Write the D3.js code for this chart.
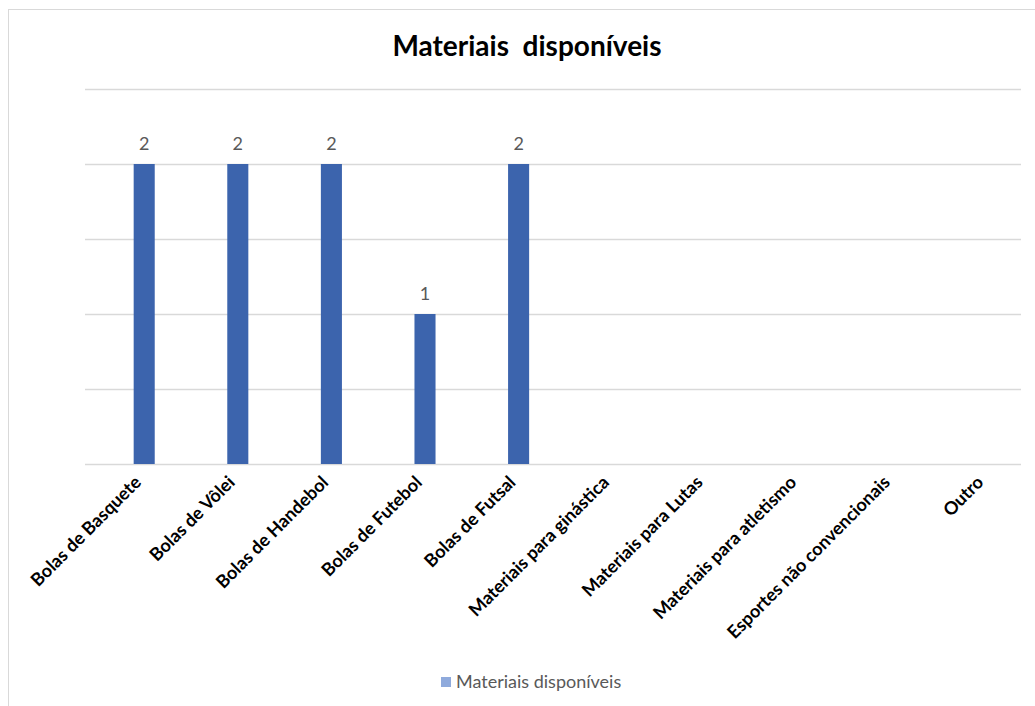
<!DOCTYPE html>
<html>
<head>
<meta charset="utf-8">
<script src="https://cdn.jsdelivr.net/npm/d3@7"></script>
<style>
  body { margin: 0; background: #fff; }
  text { font-family: Lato, "Open Sans", sans-serif; }
</style>
</head>
<body>
<div id="root"></div>
<script>
const categories = ["Bolas de Basquete", "Bolas de Vôlei", "Bolas de Handebol", "Bolas de Futebol",
  "Bolas de Futsal", "Materiais para ginástica", "Materiais para Lutas", "Materiais para atletismo",
  "Esportes não convencionais", "Outro"];
const values = [2, 2, 2, 1, 2, null, null, null, null, null];
const yTicks = [0, 0.5, 1, 1.5, 2, 2.5];
const seriesName = "Materiais disponíveis";
const title = "Materiais  disponíveis";

const outerWidth = 1035;
const outerHeight = 706;
const margin = { top: 89, right: 14, bottom: 242, left: 85 };
const width = outerWidth - margin.left - margin.right;
const height = outerHeight - margin.top - margin.bottom;

let svg = d3.select("#root")
            .append("svg")
            .attr("width", outerWidth)
            .attr("height", outerHeight);

// chart frame (only left and top edges are visible)
svg.append("rect")
   .attr("x", 8.5).attr("y", 9.5)
   .attr("width", 1100).attr("height", 800)
   .attr("fill", "none")
   .attr("stroke", "#d9d9d9");

let chart = svg.append("g")
               .attr("transform", `translate(${margin.left}, ${margin.top})`);

let scaleX = d3.scaleBand().domain(categories).range([0, width]);
let scaleY = d3.scaleLinear().domain([0, 2.5]).range([height, 0]);

// gridlines
let yAxis = d3.axisLeft(scaleY).tickValues(yTicks).tickSize(-width).tickFormat("");
chart.append("g")
     .attr("class", "y axis")
     .call(yAxis)
     .call(g => g.select(".domain").remove())
     .call(g => g.selectAll(".tick line").attr("stroke", "#d9d9d9").attr("stroke-width", 1.5));

let data = categories.map((c, i) => ({ cat: c, value: values[i] })).filter(d => d.value != null);

let barWidth = scaleX.bandwidth() * 0.225;
let barOffset = scaleX.bandwidth() * 0.52;

chart.selectAll(".bar")
     .data(data)
     .enter().append("rect")
     .attr("class", "bar")
     .attr("x", d => scaleX(d.cat) + barOffset)
     .attr("y", d => scaleY(d.value))
     .attr("width", barWidth)
     .attr("height", d => height - scaleY(d.value))
     .attr("fill", "#3c64ad");

chart.selectAll(".bar-label")
     .data(data)
     .enter().append("text")
     .attr("class", "bar-label")
     .attr("x", d => scaleX(d.cat) + barOffset + barWidth / 2)
     .attr("y", d => scaleY(d.value) - 14)
     .attr("text-anchor", "middle")
     .attr("font-size", 18)
     .attr("fill", "#595959")
     .text(d => d.value);

// category labels
let xAxis = d3.axisBottom(scaleX).tickSize(0).tickPadding(0);
chart.append("g")
     .attr("class", "x axis")
     .attr("transform", `translate(0, ${height})`)
     .call(xAxis)
     .call(g => g.select(".domain").remove())
     .call(g => g.selectAll(".tick text")
        .attr("font-family", "Lato, sans-serif")
        .attr("font-size", 18)
        .attr("font-weight", "bold")
        .attr("fill", "#000")
        .attr("text-anchor", "end")
        .attr("dy", "0.35em")
        .attr("transform", "translate(6, 15) rotate(-45)"));

// title
svg.append("text")
   .attr("x", 527)
   .attr("y", 56)
   .attr("text-anchor", "middle")
   .attr("font-size", 28)
   .attr("font-weight", "bold")
   .attr("fill", "#000")
   .style("white-space", "pre")
   .text(title);

// legend
let legend = svg.append("g").attr("transform", "translate(441, 677)");
legend.append("rect")
      .attr("width", 10).attr("height", 10)
      .attr("fill", "#8faadc");
legend.append("text")
      .attr("x", 15)
      .attr("y", 11)
      .attr("font-size", 18)
      .attr("fill", "#595959")
      .text(seriesName);
</script>
</body>
</html>
